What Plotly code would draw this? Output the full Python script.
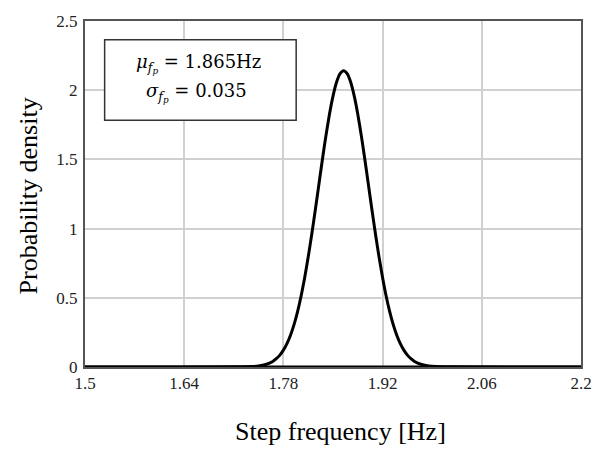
import plotly.graph_objects as go

# Data
freq = [1.500, 1.735, 1.745, 1.755, 1.765, 1.770, 1.775, 1.780, 1.785, 1.790,
        1.795, 1.800, 1.805, 1.810, 1.815, 1.820, 1.825, 1.830, 1.835, 1.840,
        1.845, 1.850, 1.855, 1.860, 1.865, 1.870, 1.875, 1.880, 1.885, 1.890,
        1.895, 1.900, 1.905, 1.910, 1.915, 1.920, 1.925, 1.930, 1.935, 1.940,
        1.945, 1.950, 1.955, 1.960, 1.965, 1.975, 1.985, 1.995, 2.200]
density = [0.0, 0.003, 0.007, 0.018, 0.040, 0.060, 0.086, 0.122, 0.169, 0.230,
           0.306, 0.400, 0.513, 0.645, 0.794, 0.959, 1.134, 1.316, 1.498, 1.670,
           1.826, 1.957, 2.057, 2.119, 2.140, 2.119, 2.057, 1.957, 1.826, 1.670,
           1.498, 1.316, 1.134, 0.959, 0.794, 0.645, 0.513, 0.400, 0.306, 0.230,
           0.169, 0.122, 0.086, 0.060, 0.040, 0.018, 0.007, 0.003, 0.0]

x_tickvals = [1.5, 1.64, 1.78, 1.92, 2.06, 2.2]
x_ticktext = ["1.5", "1.64", "1.78", "1.92", "2.06", "2.2"]
y_tickvals = [0, 0.5, 1, 1.5, 2, 2.5]
y_ticktext = ["0", "0.5", "1", "1.5", "2", "2.5"]

x_title = "Step frequency [Hz]"
y_title = "Probability density"
line1 = "<i>μ</i><sub><i>f</i><sub><i>p</i></sub></sub> = 1.865Hz"
line2 = "<i>σ</i><sub><i>f</i><sub><i>p</i></sub></sub> = 0.035"

serif = "Liberation Serif, Times New Roman, serif"
math_font = "DejaVu Serif, serif"

fig = go.Figure()
fig.add_trace(go.Scatter(
    x=freq, y=density, mode="lines",
    line=dict(color="black", width=3, shape="spline", smoothing=0.6),
    hoverinfo="skip", showlegend=False,
))

L, R, T, B = 85, 14, 15, 83
W, H = 604, 450
pw = W - L - R
ph = H - T - B

def px_x(px):
    return (px - L) / pw

def px_y(py):
    return (H - B - py) / ph

fig.update_layout(
    width=W, height=H,
    margin=dict(l=L, r=R, t=T, b=B, pad=0),
    paper_bgcolor="white", plot_bgcolor="white",
    font=dict(family=serif, color="#222222", size=17),
    xaxis=dict(
        range=[1.5, 2.2], tickvals=x_tickvals, ticktext=x_ticktext,
        showgrid=True, gridcolor="#d0d0d0", gridwidth=1.5,
        showline=True, linecolor="#555555", linewidth=2, mirror=True,
        zeroline=False, ticks="", tickfont=dict(size=17, family=serif),
    ),
    yaxis=dict(
        range=[0, 2.5], tickvals=y_tickvals, ticktext=y_ticktext,
        showgrid=True, gridcolor="#d0d0d0", gridwidth=1.5,
        showline=True, linecolor="#555555", linewidth=2, mirror=True,
        zeroline=False, ticks="", tickfont=dict(size=17, family=serif),
        ticklabelstandoff=2,
    ),
)

# thick bottom line (curve at zero)
fig.add_shape(type="line", xref="paper", yref="y", x0=0, x1=1, y0=0, y1=0,
              line=dict(color="black", width=3), layer="above")

# annotation box
fig.add_shape(type="rect", xref="paper", yref="paper",
              x0=px_x(105), x1=px_x(300), y0=px_y(116), y1=px_y(34),
              fillcolor="white", line=dict(color="#333333", width=1.5),
              layer="above")
fig.add_annotation(xref="paper", yref="paper", x=px_x(201), y=px_y(58),
                   text=line1, showarrow=False, xanchor="center", yanchor="middle",
                   font=dict(family=math_font, size=18, color="black"))
fig.add_annotation(xref="paper", yref="paper", x=px_x(199), y=px_y(88),
                   text=line2, showarrow=False, xanchor="center", yanchor="middle",
                   font=dict(family=math_font, size=18, color="black"))

# axis titles
fig.add_annotation(xref="paper", yref="paper", x=px_x(345), y=px_y(448.5),
                   text=x_title, showarrow=False, xanchor="center", yanchor="bottom",
                   borderpad=0,
                   font=dict(family=serif, size=26, color="black"))
fig.add_annotation(xref="paper", yref="paper", x=px_x(27.5), y=px_y(193),
                   text=y_title, showarrow=False, xanchor="center", yanchor="middle",
                   textangle=-90,
                   font=dict(family=serif, size=26, color="black"))

fig.write_html(
    "out.html",
    config={"displayModeBar": False},
    post_script="document.body.style.margin='0px';document.body.style.overflow='hidden';",
)
